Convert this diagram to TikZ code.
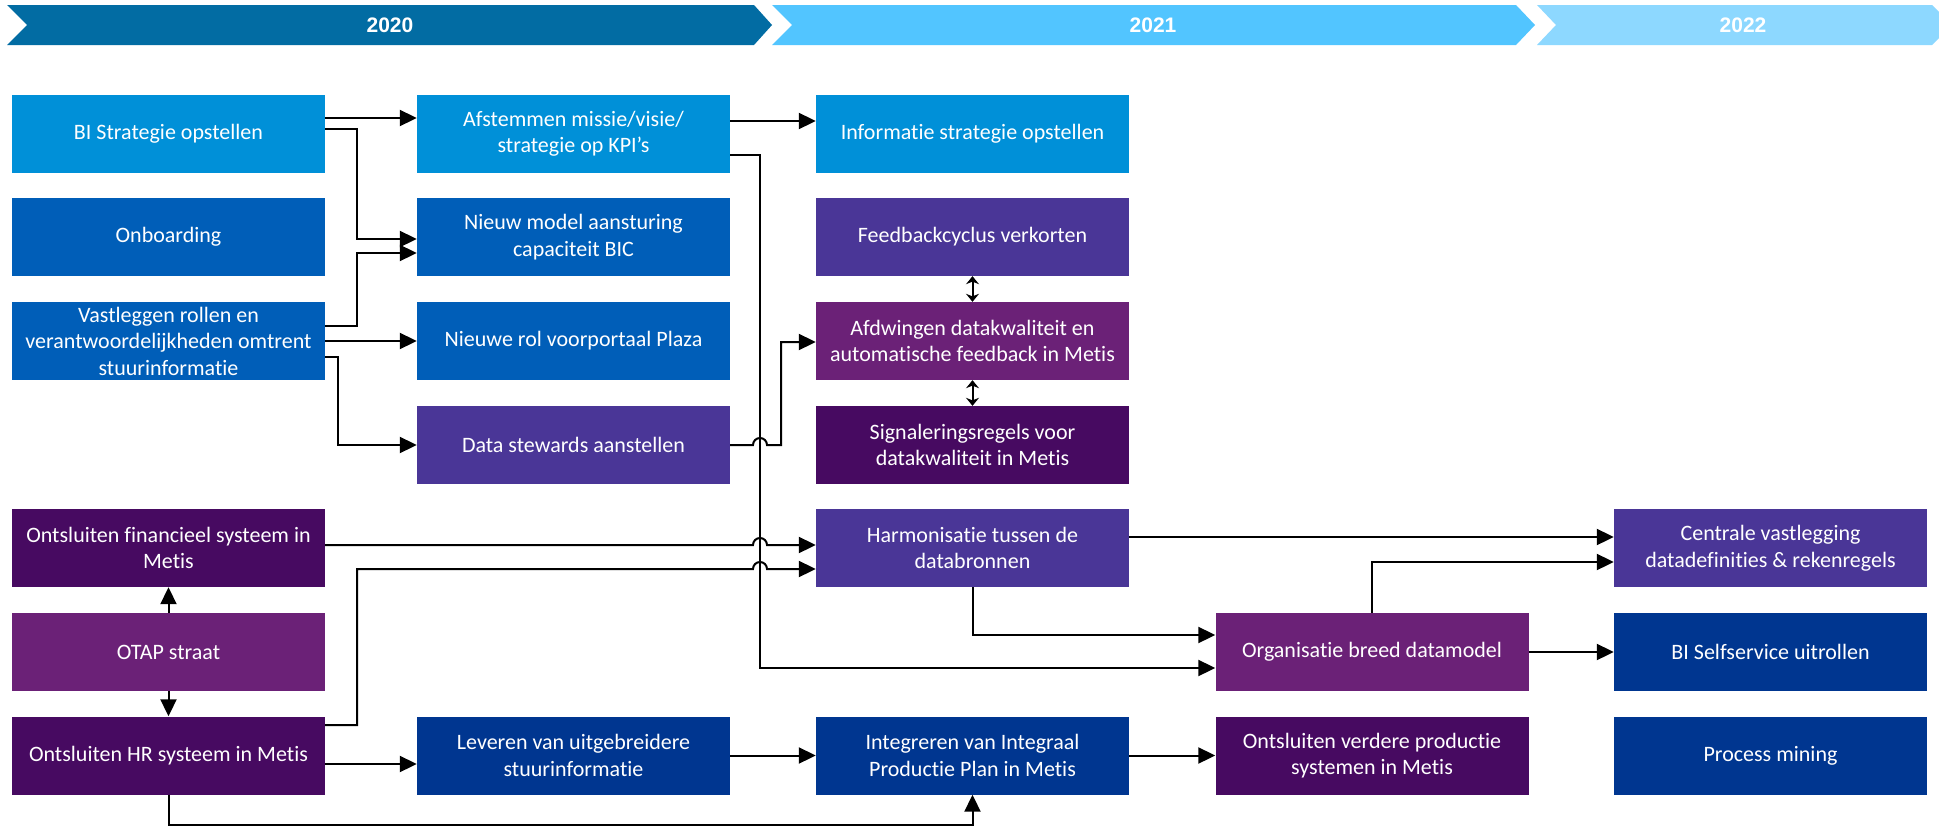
\documentclass[tikz,border=0pt]{standalone}
\usepackage{fontspec}
\setmainfont{Carlito}[Ligatures={NoCommon,NoContextual,NoRequired}]
\newfontfamily\bannerfont{Liberation Sans}
\usetikzlibrary{arrows.meta}
\definecolor{cLight}{HTML}{0090D8}
\definecolor{cMid}{HTML}{005EB8}
\definecolor{cViolet}{HTML}{4A3697}
\definecolor{cMagenta}{HTML}{6B2177}
\definecolor{cDark}{HTML}{470A61}
\definecolor{cNavy}{HTML}{003690}
\definecolor{bA}{HTML}{026CA3}
\definecolor{bB}{HTML}{52C5FF}
\definecolor{bC}{HTML}{8DD8FF}
\begin{document}
\begin{tikzpicture}[x=1pt,y=-1pt,
  box/.style={rectangle, minimum width=313pt, minimum height=78pt, inner sep=0pt,
    text=white, align=center, font=\fontsize{22}{26.5}\selectfont},
  conn/.style={draw=black, line width=2pt, -{Triangle[length=17pt,width=16pt]}},
  dbl/.style={draw=black, line width=2pt, {Stealth[length=8pt,width=13pt]}-{Stealth[length=8pt,width=13pt]}},
  yeartext/.style={text=white, font=\bannerfont\bfseries\fontsize{21}{24}\selectfont}]
\clip (0,0) rectangle (1939,827);
\fill[white] (0,0) rectangle (1939,827);
% banner
\fill[bA] (7,5) -- (754,5) -- (772,25) -- (754,45) -- (7,45) -- (27,25) -- cycle;
\fill[bB] (772,5) -- (1516,5) -- (1535,25) -- (1516,45) -- (772,45) -- (792,25) -- cycle;
\fill[bC] (1537,5) -- (1932,5) -- (1952,25) -- (1932,45) -- (1537,45) -- (1556,25) -- cycle;
\node[yeartext] (y20) at (390,25) {2020};
\node[yeartext] (y21) at (1153,25) {2021};
\node[yeartext] (y22) at (1743,25) {2022};
% column 1
\node[box, fill=cLight] (bis) at (168.5,134) {BI Strategie opstellen};
\node[box, fill=cMid] (onb) at (168.5,237) {Onboarding};
\node[box, fill=cMid] (vl) at (168.5,341) {Vastleggen rollen en\\verantwoordelijkheden omtrent\\stuurinformatie};
\node[box, fill=cDark] (fin) at (168.5,548) {Ontsluiten financieel systeem in\\Metis};
\node[box, fill=cMagenta] (otap) at (168.5,652) {OTAP straat};
\node[box, fill=cDark] (hr) at (168.5,755.5) {Ontsluiten HR systeem in Metis};
% column 2
\node[box, fill=cLight] (afs) at (573.5,134) {Afstemmen missie/visie/\\strategie op KPI’s};
\node[box, fill=cMid] (nm) at (573.5,237) {Nieuw model aansturing\\capaciteit BIC};
\node[box, fill=cMid] (nr) at (573.5,341) {Nieuwe rol voorportaal Plaza};
\node[box, fill=cViolet] (ds) at (573.5,445) {Data stewards aanstellen};
\node[box, fill=cNavy] (lev) at (573.5,755.5) {Leveren van uitgebreidere\\stuurinformatie};
% column 3
\node[box, fill=cLight] (inf) at (972.5,134) {Informatie strategie opstellen};
\node[box, fill=cViolet] (fb) at (972.5,237) {Feedbackcyclus verkorten};
\node[box, fill=cMagenta] (afw) at (972.5,341) {Afdwingen datakwaliteit en\\automatische feedback in Metis};
\node[box, fill=cDark] (sig) at (972.5,445) {Signaleringsregels voor\\datakwaliteit in Metis};
\node[box, fill=cViolet] (harm) at (972.5,548) {Harmonisatie tussen de\\databronnen};
\node[box, fill=cNavy] (int) at (972.5,755.5) {Integreren van Integraal\\Productie Plan in Metis};
% column 4
\node[box, fill=cMagenta] (org) at (1372,652) {Organisatie breed datamodel};
\node[box, fill=cDark] (ovp) at (1372,755.5) {Ontsluiten verdere productie\\systemen in Metis};
% column 5
\node[box, fill=cViolet] (cen) at (1770.5,548) {Centrale vastlegging\\datadefinities \& rekenregels};
\node[box, fill=cNavy] (bss) at (1770.5,652) {BI Selfservice uitrollen};
\node[box, fill=cNavy] (pm) at (1770.5,755.5) {Process mining};
% connectors
\draw[conn] (bis.east |- 0,118) -- (afs.west |- 0,118);
\draw[conn] (bis.east |- 0,129) -| (357,239) -- (nm.west |- 0,239);
\draw[conn] (vl.east |- 0,326) -| (357,253) -- (nm.west |- 0,253);
\draw[conn] (vl.east) -- (nr.west);
\draw[conn] (vl.east |- 0,357) -| (338,445) -- (ds.west);
\draw[conn] (afs.east |- 0,121) -- (inf.west |- 0,121);
\draw[conn] (afs.east |- 0,155) -| (760,668) -- (org.west |- 0,668);
\draw[conn] (ds.east) -- (753,445) arc[start angle=180,end angle=360,radius=7] -| (781,342) -- (afw.west |- 0,342);
\draw[dbl] (fb.south) -- (afw.north);
\draw[dbl] (afw.south) -- (sig.north);
\draw[conn] (fin.east |- 0,545) -- (753,545) arc[start angle=180,end angle=360,radius=7] -- (harm.west |- 0,545);
\draw[conn] (hr.east |- 0,725) -| (357,569) -- (753,569) arc[start angle=180,end angle=360,radius=7] -- (harm.west |- 0,569);
\draw[conn] (otap.north) -- (fin.south);
\draw[conn] (otap.south) -- (hr.north);
\draw[conn] (hr.east |- 0,764) -- (lev.west |- 0,764);
\draw[conn] (hr.south) -- (168.5,825) -| (int.south);
\draw[conn] (lev.east) -- (int.west);
\draw[conn] (harm.south) |- (org.west |- 0,635);
\draw[conn] (harm.east |- 0,537) -- (cen.west |- 0,537);
\draw[conn] (org.north) |- (cen.west |- 0,562);
\draw[conn] (org.east) -- (bss.west);
\draw[conn] (int.east) -- (ovp.west);
\end{tikzpicture}
\end{document}
